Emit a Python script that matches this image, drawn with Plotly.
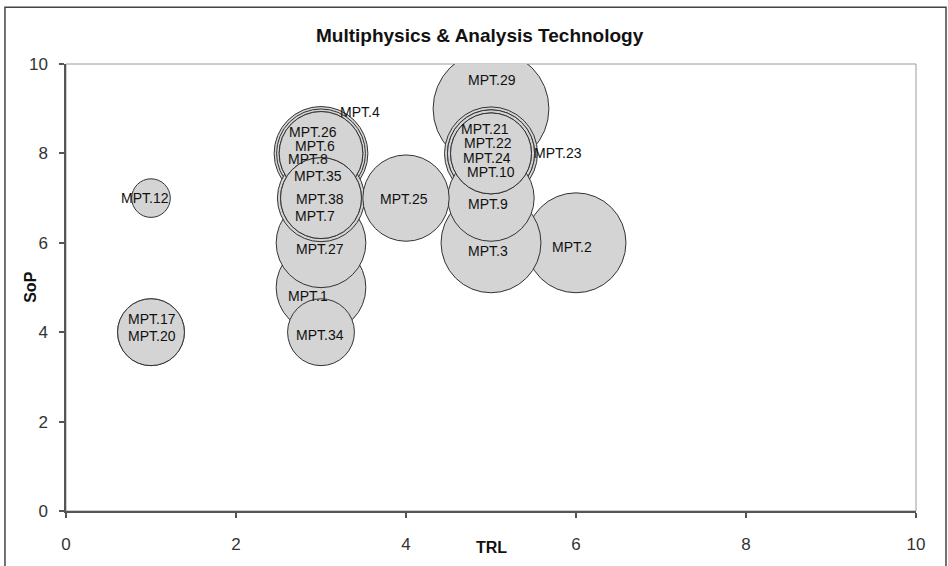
import numpy as np
import plotly.graph_objects as go

# ---- data ----
labels = ["MPT.1", "MPT.2", "MPT.3", "MPT.4", "MPT.6", "MPT.7", "MPT.8", "MPT.9",
          "MPT.10", "MPT.12", "MPT.17", "MPT.20", "MPT.21", "MPT.22", "MPT.23",
          "MPT.24", "MPT.25", "MPT.26", "MPT.27", "MPT.29", "MPT.34", "MPT.35",
          "MPT.38"]
trl = [3, 6, 5, 3, 3, 3, 3, 5,
       5, 1, 1, 1, 5, 5, 5,
       5, 4, 3, 3, 5, 3, 3,
       3]
sop = [5, 6, 6, 8, 8, 7, 8, 7,
       8, 7, 4, 4, 8, 8, 8,
       8, 7, 8, 6, 9, 4, 7,
       7]
bubble = [5.4, 6.7, 6.7, 5.9, 4.7, 4.4, 4.7, 5.0,
          4.4, 1.0, 3.0, 3.0, 5.1, 5.1, 5.8,
          4.4, 5.0, 5.3, 5.4, 9.0, 3.0, 5.1,
          4.4]

title = "Multiphysics & Analysis Technology"
x_title = "TRL"
y_title = "SoP"
x_ticks = [0, 2, 4, 6, 8, 10]
y_ticks = [0, 2, 4, 6, 8, 10]

# ---- label offsets (pixels, style only) ----
label_shift = {
    "MPT.1": (-13, -8), "MPT.2": (-4, -4), "MPT.3": (-3, -8), "MPT.4": (39, 41),
    "MPT.6": (-6, 7), "MPT.7": (-6, -18), "MPT.8": (-13, -6), "MPT.9": (-3, -6),
    "MPT.10": (0, -19), "MPT.12": (-6, 0), "MPT.17": (1, 13), "MPT.20": (1, -4),
    "MPT.21": (-6, 24), "MPT.22": (-3, 10), "MPT.23": (67, 0), "MPT.24": (-4, -5),
    "MPT.25": (-2, -1), "MPT.26": (-8, 21), "MPT.27": (-1, -6), "MPT.29": (1, 29),
    "MPT.34": (-1, -3), "MPT.35": (-3, 22), "MPT.38": (-1, -1),
}

# draw larger bubbles first so smaller ones sit on top
order = np.argsort(-np.array(bubble), kind="stable")
xs = [trl[i] for i in order]
ys = [sop[i] for i in order]
ss = [bubble[i] for i in order]
ts = [labels[i] for i in order]

font_family = "Liberation Sans, Arial, sans-serif"

fig = go.Figure()
fig.add_trace(go.Scatter(
    x=xs, y=ys, mode="markers", text=ts,
    marker=dict(size=ss, sizemode="area", sizeref=2 / (38.6 ** 2),
                color="#D4D4D4", opacity=1,
                line=dict(color="#333333", width=1)),
    cliponaxis=True, hoverinfo="text", showlegend=False,
))

annotations = []
for lab, xv, yv in zip(labels, trl, sop):
    dx, dy = label_shift[lab]
    annotations.append(dict(
        x=xv, y=yv, xref="x", yref="y", text=lab, showarrow=False,
        xshift=dx, yshift=dy, font=dict(family=font_family, size=14, color="#111111"),
    ))

# axis titles
annotations.append(dict(x=0.5, y=-0.082, xref="paper", yref="paper", text="<b>" + x_title + "</b>",
                        showarrow=False, xanchor="center", yanchor="middle",
                        font=dict(family=font_family, size=16, color="#111111")))
annotations.append(dict(x=-0.042, y=0.5, xref="paper", yref="paper", text="<b>" + y_title + "</b>",
                        showarrow=False, xanchor="center", yanchor="middle", textangle=-90,
                        font=dict(family=font_family, size=16, color="#111111")))
annotations.append(dict(x=0.487, y=1.064, xref="paper", yref="paper", text="<b>" + title + "</b>",
                        showarrow=False, xanchor="center", yanchor="middle",
                        font=dict(family=font_family, size=19, color="#111111")))

shapes = [
    # plot-area frame (light gray, top/right visible)
    dict(type="rect", xref="paper", yref="paper", x0=0, x1=1, y0=0, y1=1,
         line=dict(color="#9a9a9a", width=1), layer="below"),
    # outer chart border
    dict(type="rect", xref="paper", yref="paper", x0=-0.0718, x1=1.0353, y0=-0.14, y1=1.127,
         line=dict(color="#444444", width=1.5), layer="below"),
]

axis_common = dict(
    showgrid=False, zeroline=False, showline=True, linecolor="#555555", linewidth=1.5,
    ticks="outside", ticklen=5, tickcolor="#555555", tickwidth=1.5,
    tickfont=dict(family="Liberation Sans Narrow, Liberation Sans, Arial, sans-serif",
                  size=17, color="#333333"),
)

fig.update_layout(
    width=948, height=566,
    margin=dict(l=66, r=32, t=64, b=53),
    paper_bgcolor="white", plot_bgcolor="white",
    xaxis=dict(range=[0, 10], tickvals=x_ticks, ticklabelstandoff=12, **axis_common),
    yaxis=dict(range=[0, 10], tickvals=y_ticks, ticklabelstandoff=8, **axis_common),
    annotations=annotations, shapes=shapes,
)

fig.write_html("out.html", config={"displayModeBar": False},
               post_script="document.body.style.margin='0';document.body.style.overflow='hidden';")
